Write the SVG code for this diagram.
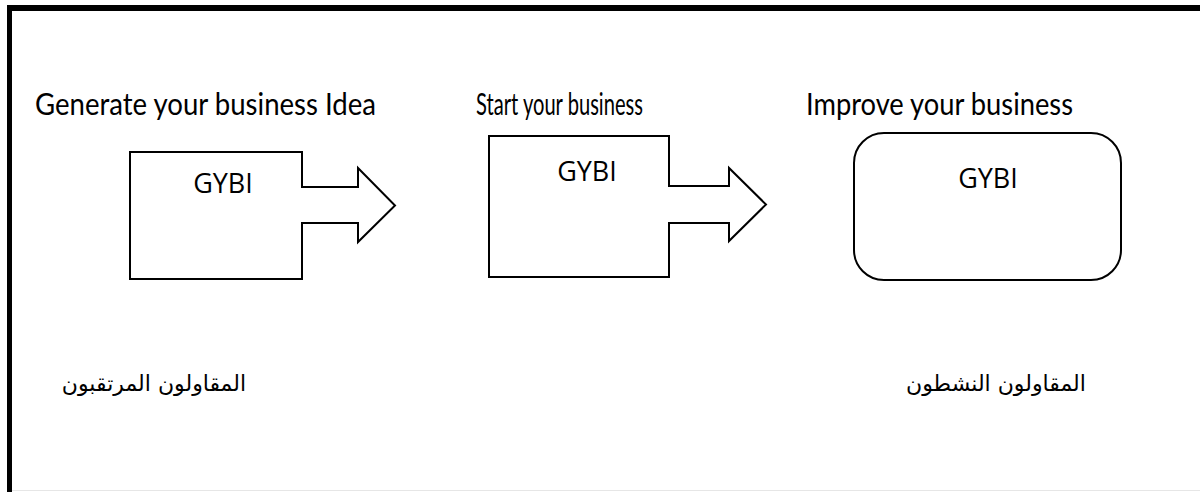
<svg xmlns="http://www.w3.org/2000/svg" width="1200" height="492" viewBox="0 0 1200 492">
  <style>
    .shape { fill: #fff; stroke: #000; stroke-width: 2; stroke-linejoin: miter; }
    .head { font-family: Lato, "Open Sans", sans-serif; font-size: 30px; fill: #000; }
    .label { font-family: "Open Sans", "Noto Sans", sans-serif; font-size: 27px; fill: #000; text-anchor: middle; }
    .ar { font-family: "DejaVu Sans", "Noto Sans", sans-serif; font-size: 22px; fill: #000; text-anchor: middle; }
  </style>
  <rect width="1200" height="492" fill="#fff"/>
  <!-- outer frame -->
  <g id="frame">
    <line x1="9.5" y1="8" x2="1200" y2="8" stroke="#000" stroke-width="6"/>
    <line x1="9.5" y1="5" x2="9.5" y2="492" stroke="#000" stroke-width="5"/>
    <line x1="12" y1="490.5" x2="1200" y2="490.5" stroke="#e6e6e6" stroke-width="1"/>
  </g>
  <!-- stage titles -->
  <g id="titles">
    <text class="head" x="35" y="115" textLength="341" lengthAdjust="spacingAndGlyphs">Generate your business Idea</text>
    <text class="head" x="476" y="115" textLength="167" lengthAdjust="spacingAndGlyphs">Start your business</text>
    <text class="head" x="806" y="115" textLength="267" lengthAdjust="spacingAndGlyphs">Improve your business</text>
  </g>
  <g id="node-gybi-1">
    <path class="shape" d="M130,152 H302 V187 H358 V168 L395,205.5 L358,242 V223 H302 V279 H130 Z"/>
    <text class="label" x="223" y="193">GYBI</text>
  </g>
  <g id="node-gybi-2">
    <path class="shape" d="M489,136 H669 V186 H729 V168 L766,204.5 L729,241 V223 H669 V277 H489 Z"/>
    <text class="label" x="587" y="181">GYBI</text>
  </g>
  <g id="node-gybi-3">
    <rect class="shape" x="854" y="133" width="267" height="147" rx="30" ry="30"/>
    <text class="label" x="988" y="188">GYBI</text>
  </g>
  <g id="connectors"></g>
  <!-- Arabic captions -->
  <g id="captions">
    <text class="ar" x="154" y="391" direction="rtl">المقاولون المرتقبون</text>
    <text class="ar" x="996" y="391" direction="rtl">المقاولون النشطون</text>
  </g>
</svg>
